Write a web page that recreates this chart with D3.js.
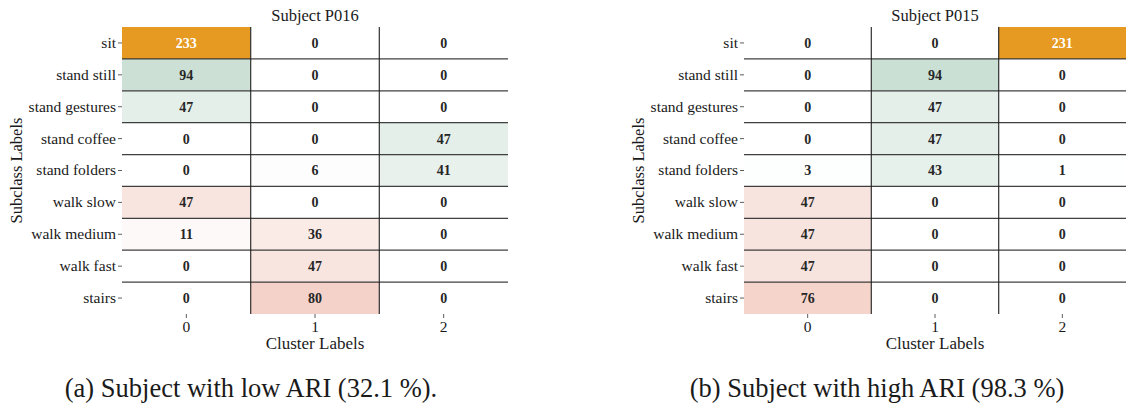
<!DOCTYPE html>
<html>
<head>
<meta charset="utf-8">
<script src="https://cdn.jsdelivr.net/npm/d3@7/dist/d3.min.js"></script>
<style>
  html, body { margin: 0; padding: 0; background: #fff; }
  svg { display: block; }
  text { font-family: "Liberation Serif", "DejaVu Serif", serif; fill: #1a1a1a; }
</style>
</head>
<body>
<svg id="fig" width="1127" height="405"></svg>
<script>
// Subclass (row) labels and their activity group
const subclasses = ["sit", "stand still", "stand gestures", "stand coffee", "stand folders",
                    "walk slow", "walk medium", "walk fast", "stairs"];
const rowGroups = ["sit", "stand", "stand", "stand", "stand", "walk", "walk", "walk", "walk"];
const clusters = ["0", "1", "2"];

// Contingency counts, one row per subclass, one column per cluster
const countsP016 = [
  [233, 0, 0], [94, 0, 0], [47, 0, 0], [0, 0, 47], [0, 6, 41],
  [47, 0, 0], [11, 36, 0], [0, 47, 0], [0, 80, 0]
];
const countsP015 = [
  [0, 0, 231], [0, 94, 0], [0, 47, 0], [0, 47, 0], [3, 43, 1],
  [47, 0, 0], [47, 0, 0], [47, 0, 0], [76, 0, 0]
];

const panelTitles = ["Subject P016", "Subject P015"];
const captions = ["(a) Subject with low ARI (32.1 %).", "(b) Subject with high ARI (98.3 %)"];

// Full-intensity colour of each activity group
const groupColors = { sit: "#e69a22", stand: "#80b299", walk: "#df7c62" };

const svg = d3.select("#fig");

function drawPanel(cfg) {
  const { counts, x0, x1, y0, y1, title, caption, captionX, ylabelX } = cfg;
  const g = svg.append("g");
  const vmax = d3.max(counts.flat());

  const x = d3.scaleBand().domain(clusters).range([x0, x1]);
  const y = d3.scaleBand().domain(subclasses).range([y0, y1]);
  const shade = {};
  for (const k of Object.keys(groupColors)) {
    shade[k] = d3.scaleLinear().domain([0, vmax]).range(["#ffffff", groupColors[k]])
      .interpolate(d3.interpolateRgb).clamp(true);
  }

  const cells = [];
  counts.forEach((row, i) => row.forEach((v, j) => cells.push({ r: subclasses[i], c: clusters[j], grp: rowGroups[i], v })));

  g.selectAll("rect.cell").data(cells).join("rect")
    .attr("class", "cell")
    .attr("x", d => x(d.c)).attr("y", d => y(d.r))
    .attr("width", x.bandwidth()).attr("height", y.bandwidth())
    .attr("fill", d => shade[d.grp](d.v));

  // inner grid lines between rows and between columns
  g.selectAll("line.h").data(subclasses.slice(1)).join("line")
    .attr("x1", x0).attr("x2", x1)
    .attr("y1", d => y(d)).attr("y2", d => y(d))
    .attr("stroke", "#1e1e1e").attr("stroke-width", 1.3).attr("stroke-opacity", 0.85);
  g.selectAll("line.v").data(clusters.slice(1)).join("line")
    .attr("y1", y0).attr("y2", y1)
    .attr("x1", d => x(d)).attr("x2", d => x(d))
    .attr("stroke", "#1e1e1e").attr("stroke-width", 1.3).attr("stroke-opacity", 0.85);

  g.selectAll("text.val").data(cells).join("text")
    .attr("class", "val")
    .attr("x", d => x(d.c) + x.bandwidth() / 2)
    .attr("y", d => y(d.r) + y.bandwidth() / 2)
    .attr("dy", "0.35em")
    .attr("text-anchor", "middle")
    .style("font-size", "14px").style("font-weight", "bold")
    .style("fill", d => d.v > vmax * 0.6 ? "#ffffff" : "#262626")
    .text(d => d.v);

  // axes
  const yAxis = d3.axisLeft(y).tickSize(4).tickPadding(2);
  const ya = g.append("g").attr("transform", `translate(${x0},0)`).call(yAxis);
  ya.attr("font-family", null);
  ya.select(".domain").remove();
  ya.selectAll("text").style("font-size", "15.5px").style("font-family", "Liberation Serif").attr("fill", "#1a1a1a");
  ya.selectAll("line").attr("stroke", "#333").attr("stroke-width", 0.8);

  const xAxis = d3.axisBottom(x).tickSize(4).tickPadding(3);
  const xa = g.append("g").attr("transform", `translate(0,${y1})`).call(xAxis);
  xa.attr("font-family", null);
  xa.select(".domain").remove();
  xa.selectAll("text").style("font-size", "15.5px").style("font-family", "Liberation Serif").attr("fill", "#1a1a1a");
  xa.selectAll("line").attr("stroke", "#333").attr("stroke-width", 0.8);

  g.append("text").attr("x", (x0 + x1) / 2).attr("y", 21)
    .attr("text-anchor", "middle").style("font-size", "16.5px").text(title);
  g.append("text").attr("x", (x0 + x1) / 2).attr("y", 349)
    .attr("text-anchor", "middle").style("font-size", "17px").text("Cluster Labels");
  g.append("text")
    .attr("transform", `translate(${ylabelX},${(y0 + y1) / 2}) rotate(-90)`)
    .attr("text-anchor", "middle").style("font-size", "16.5px").text("Subclass Labels");
  g.append("text").attr("x", captionX).attr("y", 397)
    .attr("text-anchor", "middle").style("font-size", "26.5px").text(caption);
}

drawPanel({ counts: countsP016, x0: 122, x1: 508, y0: 27, y1: 314,
  title: panelTitles[0], caption: captions[0], captionX: 251, ylabelX: 22 });
drawPanel({ counts: countsP015, x0: 744, x1: 1126, y0: 27, y1: 314,
  title: panelTitles[1], caption: captions[1], captionX: 877, ylabelX: 644 });
</script>
</body>
</html>
